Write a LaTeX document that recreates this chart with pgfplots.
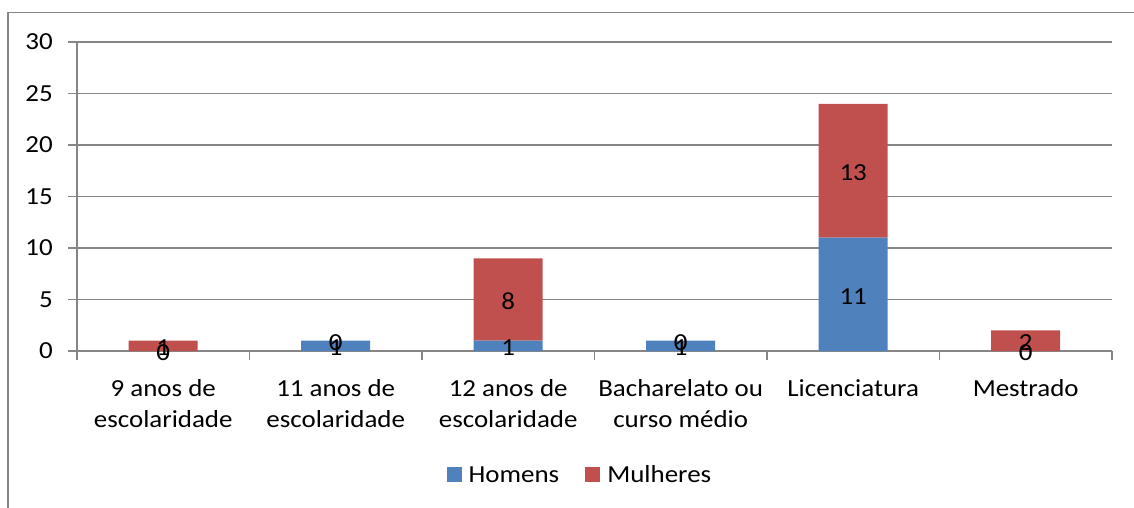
\documentclass[border=0pt]{standalone}
\usepackage{fontspec}
\setmainfont{Carlito}[FakeStretch=1.1]
\usepackage{pgfplots}
\pgfplotsset{compat=1.18}
\usepackage{pgfplotstable}
\definecolor{hom}{HTML}{4F81BD}
\definecolor{mul}{HTML}{C0504D}
\definecolor{gridc}{HTML}{868686}
\pgfplotstableread{
x H M
1 0 1
2 1 0
3 1 8
4 1 0
5 11 13
6 0 2
}\datatable
\newcommand\cf{\fontsize{24.5}{31}\selectfont}
\pgfplotsset{commonaxis/.style={
  at={(77pt,156pt)}, anchor=south west,
  scale only axis, width=1035pt, height=309pt,
  xmin=0.5, xmax=6.5, ymin=0, ymax=30,
  /pgf/number format/assume math mode=true,
  clip=false}}
\begin{document}
\begin{tikzpicture}[x=1pt,y=1pt]
\useasboundingbox (0,0) rectangle (1134,507);
\draw[gridc, line width=1.3pt] (8,-5) -- (8,494.5) -- (1140,494.5);
\begin{axis}[
  commonaxis,
  ybar stacked, bar width=69pt,
  axis x line*=bottom, axis y line*=left,
  axis line style={gridc, line width=1.3pt},
  ytick={0,5,...,30},
  ymajorgrids, grid style={gridc, line width=1.3pt},
  tick align=outside,
  y tick style={gridc, line width=1.3pt},
  x tick style={gridc, line width=1.3pt},
  major tick length=9pt,
  yticklabel style={font=\cf, inner sep=0pt, anchor=east, xshift=-15pt},
  xtick={0.5,1.5,...,6.5}, xticklabels={},
  extra x ticks={1,2,3,4,5,6},
  extra x tick labels={9 anos de\\escolaridade, 11 anos de\\escolaridade, 12 anos de\\escolaridade, Bacharelato ou\\curso médio, Licenciatura, Mestrado},
  extra x tick style={major tick length=0pt, tick style={draw=none},
    xticklabel style={font=\cf, align=center, inner sep=0pt, anchor=north, yshift=-28pt}},
  legend style={at={(0.485,-0.401)}, anchor=center, draw=none, fill=none,
    legend columns=2, font=\cf, nodes={inner sep=0pt},
    /tikz/every odd column/.append style={column sep=7pt},
    /tikz/every even column/.append style={column sep=26pt}},
]
\addplot[fill=hom, draw=none,
  legend image code/.code={\fill[hom] (0pt,-7.5pt) rectangle (15pt,7.5pt);}]
  table[x=x, y=H] {\datatable};
\addlegendentry{Homens}
\addplot[fill=mul, draw=none,
  legend image code/.code={\fill[mul] (0pt,-7.5pt) rectangle (15pt,7.5pt);}]
  table[x=x, y=M] {\datatable};
\addlegendentry{Mulheres}
\end{axis}
\begin{axis}[commonaxis, hide axis,
  nodes near coords, point meta=explicit,
  every node near coord/.style={font=\cf, text=black, anchor=center, inner sep=0pt, yshift=-2pt}]
\addplot[draw=none, mark=none] table[x=x, y expr=\thisrow{H}/2, meta=H] {\datatable};
\addplot[draw=none, mark=none] table[x=x, y expr=\thisrow{H}+\thisrow{M}/2, meta=M] {\datatable};
\end{axis}
\end{tikzpicture}
\end{document}
